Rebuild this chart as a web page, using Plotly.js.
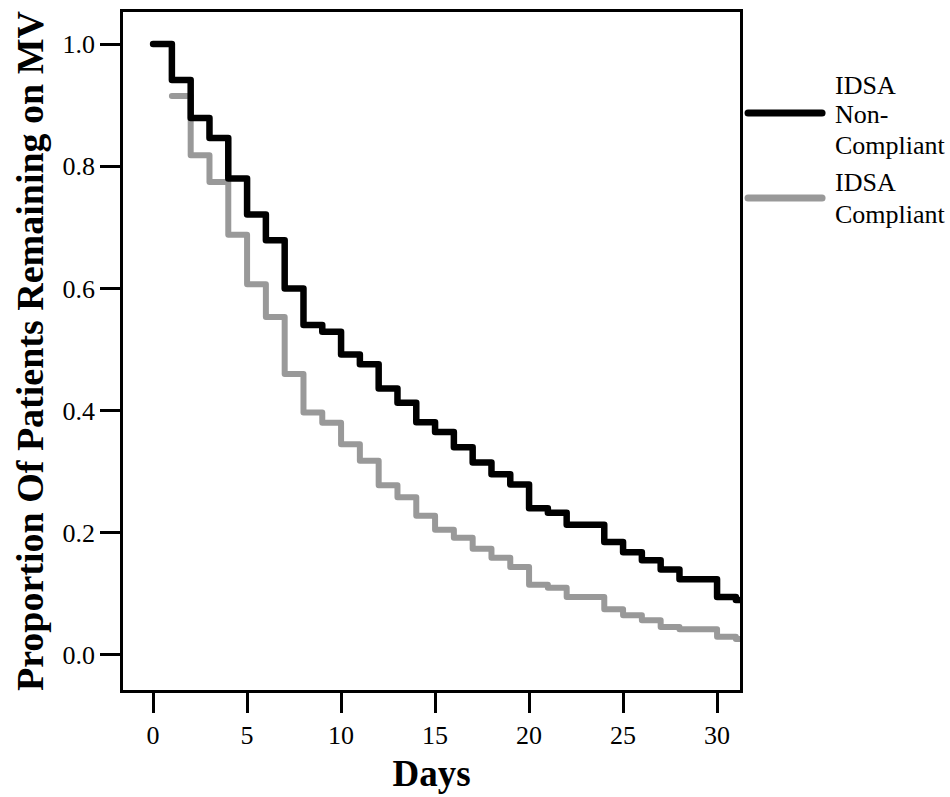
<!DOCTYPE html>
<html>
<head>
<meta charset="utf-8">
<script src="https://cdn.plot.ly/plotly-3.0.1.min.js"></script>
<style>
  html, body { margin: 0; padding: 0; background: #ffffff; }
  #chart { width: 950px; height: 797px; }
  .scatterlayer path.js-line { stroke-linecap: round; stroke-linejoin: round; }
  .shapelayer path { stroke-linecap: round; }
</style>
</head>
<body>
<div id="chart"></div>
<script>
// Kaplan-Meier style step data (value held from each day onward)
const nonCompliantDays = [0, 1, 2, 3, 4, 5, 6, 7, 8, 9, 10, 11, 12, 13, 14, 15, 16, 17, 18, 19, 20, 21, 22, 24, 25, 26, 27, 28, 30, 31, 31.6];
const nonCompliantProp = [1.0, 0.941, 0.879, 0.846, 0.780, 0.721, 0.679, 0.600, 0.540, 0.529, 0.492, 0.476, 0.436, 0.413, 0.381, 0.365, 0.340, 0.315, 0.296, 0.279, 0.240, 0.233, 0.213, 0.185, 0.168, 0.155, 0.140, 0.124, 0.095, 0.090, 0.090];

const compliantDays = [1, 2, 3, 4, 5, 6, 7, 8, 9, 10, 11, 12, 13, 14, 15, 16, 17, 18, 19, 20, 21, 22, 24, 25, 26, 27, 28, 30, 31, 31.6];
const compliantProp = [0.915, 0.818, 0.774, 0.688, 0.607, 0.553, 0.460, 0.397, 0.380, 0.345, 0.318, 0.278, 0.258, 0.228, 0.205, 0.192, 0.174, 0.159, 0.144, 0.115, 0.110, 0.095, 0.075, 0.065, 0.057, 0.046, 0.042, 0.030, 0.026, 0.026];

const seriesNames = ["IDSA<br>Non-<br>Compliant", "IDSA<br>Compliant"];
const seriesColors = ["#000000", "#999999"];

const xTickVals = [0, 5, 10, 15, 20, 25, 30];
const yTickVals = [0.0, 0.2, 0.4, 0.6, 0.8, 1.0];
const yTickText = ["0.0", "0.2", "0.4", "0.6", "0.8", "1.0"];

const FONT = '"Liberation Serif", "Times New Roman", Times, serif';

const traces = [
  {
    x: compliantDays, y: compliantProp, type: "scatter", mode: "lines",
    line: { shape: "hv", color: seriesColors[1], width: 6 },
    name: seriesNames[1], showlegend: false, hoverinfo: "x+y"
  },
  {
    x: nonCompliantDays, y: nonCompliantProp, type: "scatter", mode: "lines",
    line: { shape: "hv", color: seriesColors[0], width: 6.5 },
    name: seriesNames[0], showlegend: false, hoverinfo: "x+y"
  }
];

// manual legend placement (paper coords)
const legLineY = [0.851, 0.7257];
const legTextY = [[0.8923, 0.8481, 0.8024], [0.7478, 0.7006]];
const shapes = [];
const annotations = [];
for (let i = 0; i < 2; i++) {
  shapes.push({
    type: "line", xref: "paper", yref: "paper",
    x0: 1.0130, x1: 1.1330, y0: legLineY[i], y1: legLineY[i],
    line: { color: seriesColors[i], width: 7 }
  });
  const parts = seriesNames[i].split("<br>");
  parts.forEach((p, j) => {
    annotations.push({
      xref: "paper", yref: "paper", x: 1.1507, y: legTextY[i][j],
      xanchor: "left", yanchor: "middle", align: "left",
      showarrow: false, text: p,
      font: { family: FONT, size: 26, color: "#000000" }
    });
  });
}

const layout = {
  width: 950, height: 797,
  margin: { l: 123, r: 210, t: 12, b: 107, pad: 0 },
  paper_bgcolor: "#ffffff", plot_bgcolor: "#ffffff",
  showlegend: false,
  font: { family: FONT, size: 26, color: "#000000" },
  xaxis: {
    range: [-1.6, 31.22],
    tickvals: xTickVals,
    ticks: "outside", ticklen: 20, tickwidth: 2.5, tickcolor: "#000",
    showline: true, linecolor: "#000", linewidth: 2.5, mirror: true,
    showgrid: false, zeroline: false,
    tickfont: { family: FONT, size: 26, color: "#000" },
    title: { text: "<b>Days</b>", font: { family: FONT, size: 37, color: "#000" }, standoff: 12 }
  },
  yaxis: {
    range: [-0.0573, 1.0524],
    tickvals: yTickVals, ticktext: yTickText,
    ticks: "outside", ticklen: 20, tickwidth: 2.5, tickcolor: "#000",
    showline: true, linecolor: "#000", linewidth: 2.5, mirror: true,
    showgrid: false, zeroline: false,
    tickfont: { family: FONT, size: 26, color: "#000" },
    title: { text: "<b>Proportion Of Patients Remaining on MV</b>", font: { family: FONT, size: 38, color: "#000" }, standoff: 8 }
  },
  shapes: shapes,
  annotations: annotations
};

Plotly.newPlot("chart", traces, layout, { displayModeBar: false, responsive: false });
</script>
</body>
</html>
